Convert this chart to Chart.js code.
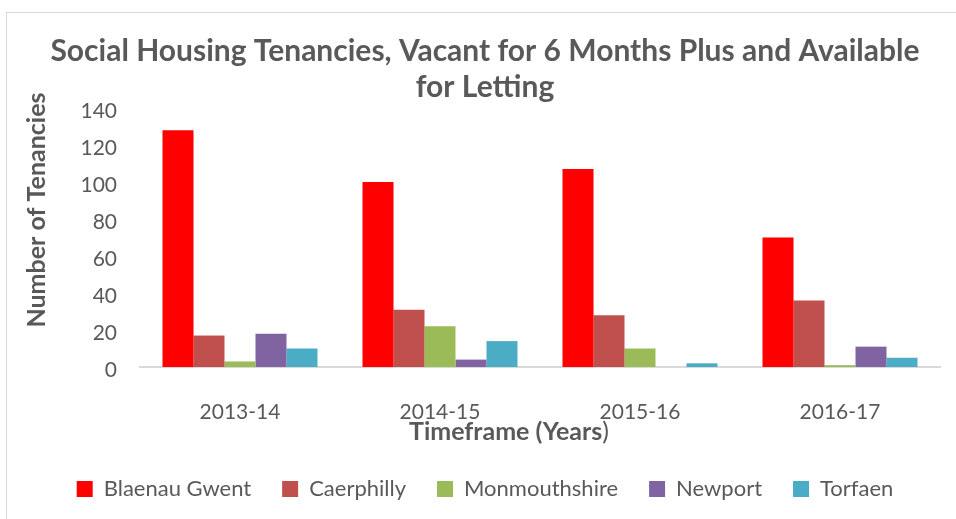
<!DOCTYPE html>
<html>
<head>
<meta charset="utf-8">
<script src="https://cdn.jsdelivr.net/npm/chart.js@4.4.1/dist/chart.umd.min.js"></script>
<style>
  html, body { margin: 0; padding: 0; background: #ffffff; }
  #wrap { position: relative; width: 956px; height: 519px; overflow: hidden; }
  #frame { position: absolute; left: 6px; top: 12px; width: 960px; height: 520px; border: 1px solid #d9d9d9; box-sizing: border-box; }
  canvas { position: absolute; left: 0; top: 0; }
</style>
</head>
<body>
<div id="wrap">
  <div id="frame"></div>
  <canvas id="c" width="956" height="519"></canvas>
</div>
<script>
const titleLines = ["Social Housing Tenancies, Vacant for 6 Months Plus and Available", "for Letting"];
const categories = ["2013-14", "2014-15", "2015-16", "2016-17"];
const seriesNames = ["Blaenau Gwent", "Caerphilly", "Monmouthshire", "Newport", "Torfaen"];
const blaenauGwent = [128, 100, 107, 70];
const caerphilly = [17, 31, 28, 36];
const monmouthshire = [3, 22, 10, 1];
const newport = [18, 4, 0, 11];
const torfaen = [10, 14, 2, 5];
const seriesColors = ["#FF0000", "#C0504D", "#9BBB59", "#8064A2", "#4BACC6"];
const yTitle = "Number of Tenancies";
const xTitleBold = "Timeframe (Years";
const xTitleTail = ")";
const yMin = 0, yMax = 140, yStep = 20;

const FONT = "Lato";
const TEXT = "#595959";
const allSeries = [blaenauGwent, caerphilly, monmouthshire, newport, torfaen];

const axisTitles = {
  id: 'axisTitles',
  afterDraw(chart) {
    const ctx = chart.ctx;
    ctx.save();
    ctx.fillStyle = TEXT;
    ctx.font = "bold 25px " + FONT;
    ctx.textAlign = "center";
    ctx.textBaseline = "middle";
    ctx.translate(37, 210);
    ctx.rotate(-Math.PI / 2);
    ctx.fillText(yTitle, 0, 0);
    ctx.restore();
    ctx.save();
    ctx.fillStyle = TEXT;
    ctx.textBaseline = "middle";
    ctx.font = "bold 25px " + FONT;
    const w1 = ctx.measureText(xTitleBold).width;
    ctx.font = "25px " + FONT;
    const w2 = ctx.measureText(xTitleTail).width;
    const x = 509 - (w1 + w2) / 2;
    ctx.textAlign = "left";
    ctx.font = "bold 25px " + FONT;
    ctx.fillText(xTitleBold, x, 432);
    ctx.font = "25px " + FONT;
    ctx.fillText(xTitleTail, x + w1, 432);
    ctx.restore();
  }
};

new Chart(document.getElementById('c'), {
  type: 'bar',
  data: {
    labels: categories,
    datasets: seriesNames.map((n, i) => ({
      label: n,
      data: allSeries[i],
      backgroundColor: seriesColors[i],
      borderWidth: 0,
      categoryPercentage: 0.775,
      barPercentage: 1.0
    }))
  },
  options: {
    responsive: false,
    animation: false,
    layout: { padding: { left: 30, right: 16, top: 0, bottom: 9 } },
    plugins: {
      title: {
        display: true,
        text: titleLines,
        color: TEXT,
        font: { family: FONT, size: 30, weight: 'bold', lineHeight: 36 / 30 },
        padding: { top: 33, bottom: 3 }
      },
      legend: {
        position: 'bottom',
        labels: {
          color: TEXT,
          font: { family: FONT, size: 22 },
          boxWidth: 16,
          boxHeight: 16,
          padding: 31
        }
      },
      tooltip: { enabled: false }
    },
    scales: {
      x: {
        grid: { display: false, drawTicks: false },
        border: { display: true, color: '#d9d9d9', width: 2 },
        ticks: { color: TEXT, font: { family: FONT, size: 21 }, padding: 33, maxRotation: 0 },
        afterFit(scale) { scale.height = 80; }
      },
      y: {
        min: yMin, max: yMax,
        grid: { display: false, drawTicks: false },
        border: { display: false },
        ticks: { stepSize: yStep, color: TEXT, font: { family: FONT, size: 21 }, padding: 23, labelOffset: 3 },
        afterFit(scale) { scale.width = 110; }
      }
    }
  },
  plugins: [axisTitles]
});
</script>
</body>
</html>
